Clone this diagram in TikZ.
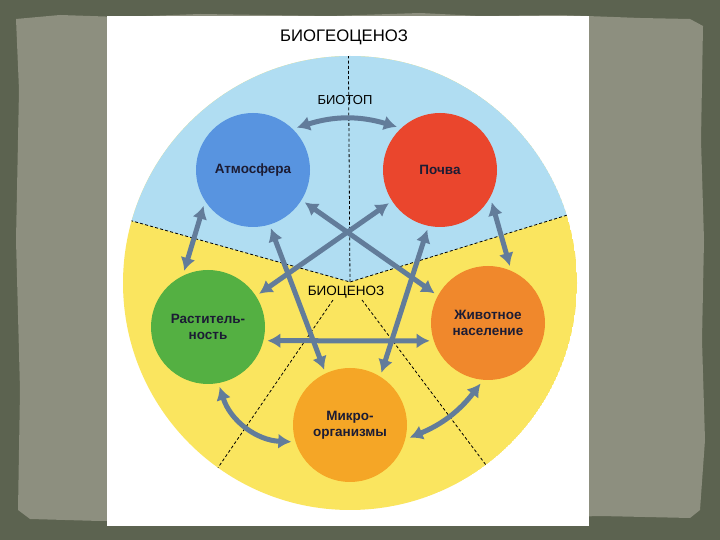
\documentclass[tikz,border=0pt]{standalone}
\usepackage{fontspec}
\setmainfont{Liberation Sans}
\usetikzlibrary{arrows.meta}

\definecolor{framedark}{RGB}{92,99,80}
\definecolor{framelight}{RGB}{141,143,127}
\definecolor{skyblue}{RGB}{176,221,242}
\definecolor{sunyellow}{RGB}{250,229,95}
\definecolor{atmblue}{RGB}{88,148,224}
\definecolor{soilred}{RGB}{234,70,45}
\definecolor{plantgreen}{RGB}{84,176,66}
\definecolor{animorange}{RGB}{240,136,44}
\definecolor{microorange}{RGB}{245,166,38}
\definecolor{linkgray}{RGB}{98,124,154}
\definecolor{labelink}{RGB}{28,28,52}

\begin{document}
\begin{tikzpicture}[x=1pt,y=1pt,
		sphere/.style={circle,minimum size=114pt,inner sep=0pt,outer sep=4pt,
			text=labelink,align=center,font=\bfseries\fontsize{13.5}{16}\selectfont},
		link/.style={line width=5pt,draw=linkgray,
			{Latex[length=13pt,width=15pt]}-{Latex[length=13pt,width=15pt]}},
		zone/.style={black,line width=0.8pt,dash pattern=on 3pt off 2.2pt}]
		\useasboundingbox (0,0) rectangle (720,540);
		% frame
		\fill[framedark] (0,0) rectangle (720,540);
		\fill[framelight] (16,521) -- (60,525) -- (120,523) -- (200,526) -- (330,524) -- (420,527)
			-- (480,524) -- (560,525) -- (640,522) -- (690,521) -- (703,514) -- (701,400) -- (704,300)
			-- (702,200) -- (705,100) -- (700,30) -- (690,22) -- (600,24) -- (500,21) -- (400,23)
			-- (300,20) -- (200,22) -- (100,19) -- (30,21) -- (18,30) -- (20,150) -- (16,300)
			-- (19,450) -- cycle;
		\fill[white] (107,14) rectangle (589,524);
		
		% biotop / biocenosis zones
		\begin{scope}
			\clip (350,257) circle (227);
			\fill[sunyellow] (350,257) circle (227);
			\fill[skyblue] (100,328) -- (350,258) -- (600,335) -- (600,540) -- (100,540) -- cycle;
			\draw[zone] (100,328) -- (350,258) -- (600,335);
			\draw[zone] (350,258) -- (348,540);
			\draw[zone] (333,240) -- (189,30);
			\draw[zone] (362,240) -- (519,31);
		\end{scope}
		
		\node[font=\fontsize{16.7}{20}\selectfont] (bgc) at (344,503) {БИОГЕОЦЕНОЗ};
		\node[font=\fontsize{13}{16}\selectfont] (biotop) at (345,440) {БИОТОП};
		\node[font=\fontsize{13.5}{16}\selectfont,fill=sunyellow,inner sep=1pt] (biocen) at (346,248) {БИОЦЕНОЗ};
		
		\node[sphere,fill=atmblue] (atm) at (253,370) {Атмосфера};
		\node[sphere,fill=soilred] (soil) at (440,370) {Почва};
		\node[sphere,fill=plantgreen] (plant) at (208,213) {Раститель-\\ность};
		\node[sphere,fill=animorange] (anim) at (488,217) {Животное\\население};
		\node[sphere,fill=microorange] (micro) at (350,115) {Микро-\\организмы};
		
		\draw[link] (atm.44) to[bend left=17] (soil.135);
		\draw[link] (atm.-144) -- (plant.113);
		\draw[link] (soil.-32) -- (anim.69);
		\draw[link] (plant.-79) to[bend right=35] (micro.-164);
		\draw[link] (anim.-97) to[bend left=15] (micro.-12);
		\draw[link] (plant.-13) -- (anim.-163);
		\draw[link] (atm.-32) -- (anim.151);
		\draw[link] (soil.-147) -- (plant.33);
		\draw[link] (atm.-73) -- (micro.115);
		\draw[link] (soil.-102) -- (micro.59);
\end{tikzpicture}
\end{document}
